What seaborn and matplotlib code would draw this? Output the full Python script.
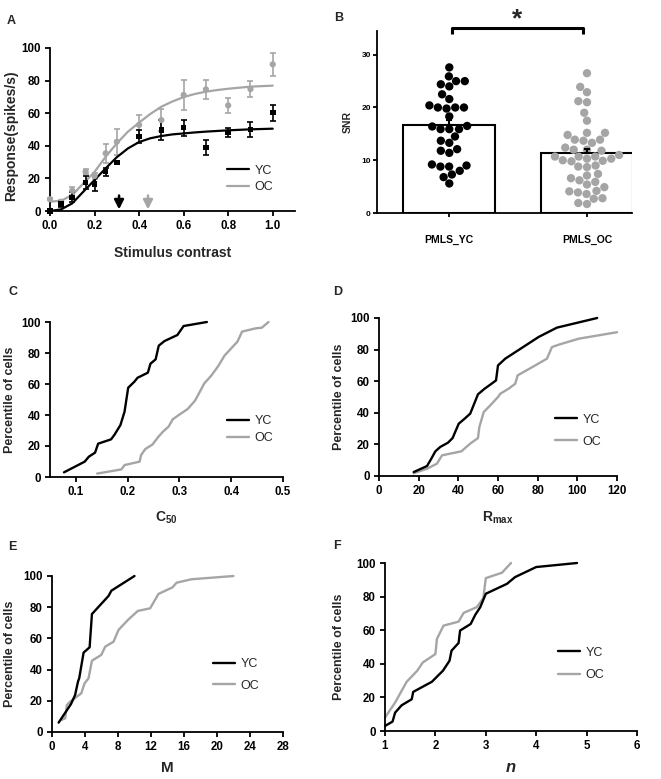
import matplotlib
matplotlib.use("Agg")
import matplotlib.pyplot as plt
import seaborn as sns
import pandas as pd

sns.set_theme(style="ticks")
plt.rcParams["font.family"] = ["Liberation Sans", "DejaVu Sans"]
plt.rcParams["font.weight"] = "bold"
plt.rcParams["axes.labelweight"] = "bold"
plt.rcParams["mathtext.fontset"] = "custom"
plt.rcParams["mathtext.rm"] = "Liberation Sans:bold"
plt.rcParams["mathtext.bf"] = "Liberation Sans:bold"
plt.rcParams["mathtext.default"] = "rm"

W, H = 661, 779
BLACK = "#000000"
GRAY = "#a5a5a5"

# ── A: contrast response ─────────────────────────────────────
contrast = [0, 0.05, 0.1, 0.16, 0.2, 0.25, 0.3, 0.4, 0.5, 0.6, 0.7, 0.8, 0.9, 1.0]
yc_resp = [0, 4.3, 8.4, 17.4, 16.6, 24.1, 29.7, 45.6, 49.7, 51.1, 38.9, 48.1, 50.1, 60.3]
yc_err = [0.5, 2, 3, 4, 4.5, 2.5, 1, 4, 6, 5, 4.5, 3, 4.5, 5]
oc_resp = [7.2, 5.7, 12.5, 24.1, 21.5, 35.4, 42.5, 52.8, 55.8, 71.2, 74.6, 64.8, 74.8, 90]
oc_err = [0.5, 1, 2.5, 1.5, 2, 6, 8, 6, 7, 9, 6, 4.5, 5, 7]

fit_x = [0, 0.05, 0.1, 0.15, 0.2, 0.25, 0.3, 0.35, 0.4, 0.45, 0.5, 0.55, 0.6, 0.65,
         0.7, 0.75, 0.8, 0.9, 1.0]
yc_fit = [0, 1, 4.7, 11.9, 19, 26.2, 33, 38.4, 42.3, 44.6, 46, 47, 47.6, 48.2,
          48.7, 49.1, 49.5, 50.1, 50.5]
oc_fit = [5.7, 6.3, 9.8, 17, 24, 33.3, 41.5, 48.7, 54.2, 59.5, 64, 67.2, 69.9, 71.8,
          73.2, 74.2, 75, 76.3, 76.9]
c50_arrows = [0.31, 0.44]

# ── B: SNR ───────────────────────────────────────────────────
groups = ["PMLS_YC", "PMLS_OC"]
snr_yc = [27.6, 25.0, 24.4, 24.0, 25.0, 25.9, 22.5, 21.6, 20.0, 19.8, 20.4, 20.0, 20.0,
          18.3, 16.5, 15.9, 15.9, 15.9, 16.4, 14.5, 13.7, 13.3, 12.1, 11.4, 11.8,
          9.0, 8.8, 8.8, 9.2, 7.3, 8.0, 6.8, 5.6]
snr_oc = [26.5, 22.9, 23.9, 19.0, 21.0, 21.2, 17.5, 15.2, 13.9, 13.7, 15.2, 13.9, 14.8,
          12.4, 12.0, 13.3, 11.8, 12.0, 10.3, 10.0, 9.8, 8.8, 8.7, 9.0, 9.9, 10.3, 10.7,
          10.7, 10.7, 11.0, 5.9, 4.9, 7.1, 6.2, 6.6, 7.4, 5.4, 3.6, 4.1, 3.9, 4.2, 2.8,
          2.7, 1.7, 1.9]
snr_mean = [16.6, 11.4]
snr_sem = [1.1, 0.8]

# ── C-F: cumulative distributions ────────────────────────────
c50_yc_x = [0.077, 0.117, 0.125, 0.137, 0.143, 0.168, 0.175, 0.186, 0.194, 0.201, 0.213,
            0.219, 0.239, 0.244, 0.254, 0.26, 0.271, 0.296, 0.308, 0.353]
c50_yc_y = [3, 9.9, 13.1, 15.7, 21.5, 24.3, 27.5, 33.5, 42.2, 57.6, 61.5, 64, 67.3, 73.1,
            75.9, 84.7, 87.7, 91.6, 97.4, 100]
c50_oc_x = [0.141, 0.188, 0.194, 0.223, 0.226, 0.234, 0.248, 0.259, 0.268, 0.279, 0.287,
            0.297, 0.316, 0.33, 0.337, 0.348, 0.361, 0.375, 0.387, 0.403, 0.412, 0.421,
            0.447, 0.459, 0.472]
c50_oc_y = [2.2, 4.9, 7.7, 9.9, 14.2, 18, 21, 25.8, 29.2, 32.5, 37.2, 39.6, 43.9, 49.2,
            53.5, 60.4, 65.2, 71.6, 78.3, 84.1, 87.3, 93.8, 95.9, 96.3, 100]

rmax_yc_x = [17.5, 24.2, 26.4, 28.4, 30.9, 34.8, 37.1, 40.2, 43.2, 46, 49.9, 53.3, 56.1,
             59, 60, 63.7, 80.5, 89.7, 110]
rmax_yc_y = [2.5, 6.3, 11, 15.6, 18.4, 21.1, 24, 33.1, 36.3, 39.5, 51.7, 55.3, 57.8,
             60.5, 70, 74.3, 88, 93.9, 100]
rmax_oc_x = [17.5, 24.2, 29.2, 31.8, 41.5, 46, 49.9, 50.6, 52.8, 56.1, 60, 61.2, 65.4,
             68.7, 69.9, 78.8, 84.7, 87.2, 90.6, 100.7, 120]
rmax_oc_y = [1.7, 4.6, 7.8, 13.1, 15.6, 20.5, 24, 31, 40.5, 44.7, 50, 52.1, 55.3, 58.4,
             63.7, 70, 74.3, 81.6, 83.1, 86.9, 91]

m_yc_x = [0.8, 2.3, 2.8, 3.15, 3.3, 3.83, 4.56, 4.84, 6.85, 7.2, 10]
m_yc_y = [6, 17.9, 23.7, 32.3, 34.5, 50.9, 54.3, 75.6, 87.2, 90.6, 100]
m_oc_x = [1.13, 1.6, 1.8, 2.2, 3.55, 3.95, 4.43, 4.84, 5.97, 6.45, 7.46, 8.06, 9.2, 10.4,
          11.9, 12.9, 14.6, 15.1, 16.9, 22]
m_oc_y = [7.7, 8.8, 17.3, 19.4, 24.8, 31.2, 34.4, 45.7, 49.4, 54.7, 57.9, 65.4, 71.8,
          77.6, 79.3, 88.5, 92.7, 95.7, 97.9, 100]

n_yc_x = [1.0, 1.15, 1.2, 1.33, 1.53, 1.56, 1.93, 2.15, 2.28, 2.32, 2.46, 2.49, 2.7, 2.79,
          2.89, 3.0, 3.42, 3.58, 4.0, 4.81]
n_yc_y = [3, 5.6, 10.9, 15.3, 18.9, 23.3, 29.3, 35.9, 41.8, 47.8, 52.4, 59.8, 63.7, 69.1,
          73.7, 81.7, 87.6, 91.6, 97.6, 100]
n_oc_x = [1.0, 1.2, 1.43, 1.64, 1.75, 2.0, 2.03, 2.16, 2.46, 2.56, 2.82, 2.95, 3.0, 3.32, 3.5]
n_oc_y = [8, 16.9, 29.3, 35.9, 40.8, 45.8, 54.8, 62.7, 65.1, 70.3, 73.7, 79, 91, 94.2, 100]

fig = plt.figure(figsize=(W / 100, H / 100), dpi=100)


def axes_px(l, t, r, b):
    return fig.add_axes([l / W, 1 - b / H, (r - l) / W, (b - t) / H])


def style(ax, size=8.3, length=3.5, pad=3):
    sns.despine(ax=ax)
    for s in ["left", "bottom"]:
        ax.spines[s].set_linewidth(1.3)
        ax.spines[s].set_color("black")
    ax.tick_params(direction="out", length=length, width=1.3, labelsize=size, pad=pad,
                   colors="black")


def xlab(ax, text, y_px, size=10, **kw):
    ax.set_xlabel(text, fontsize=size, **kw)
    bb = ax.get_position()
    ax.xaxis.set_label_coords((bb.x0 + bb.x1) / 2, 1 - y_px / H, transform=fig.transFigure)
    ax.xaxis.label.set_va("center")


def ylab(ax, text, x_px, y_px=None, size=9):
    ax.set_ylabel(text, fontsize=size)
    bb = ax.get_position()
    cy = (bb.y0 + bb.y1) / 2 if y_px is None else 1 - y_px / H
    ax.yaxis.set_label_coords(x_px / W, cy, transform=fig.transFigure)
    ax.yaxis.label.set_va("center")


def legend(ax, x_px, y_px, spacing):
    h, l = ax.get_legend_handles_labels()
    d = dict(zip(l, h))
    ax.legend([d["YC"], d["OC"]], ["YC", "OC"], loc="center left",
              bbox_to_anchor=(x_px / W, 1 - y_px / H), bbox_transform=fig.transFigure,
              frameon=False, borderpad=0, borderaxespad=0, handlelength=1.75,
              handletextpad=0.45, labelspacing=spacing,
              prop={"size": 9, "weight": "normal"})


def letter(x_px, y_px, s):
    fig.text(x_px / W, 1 - y_px / H, s, fontsize=9, fontweight="bold", ha="center", va="center")


def cdf_panel(ax, yc_x, yc_y, oc_x, oc_y):
    sns.lineplot(x=oc_x, y=oc_y, color=GRAY, lw=1.7, estimator=None, sort=False,
                 label="OC", ax=ax, clip_on=False)
    sns.lineplot(x=yc_x, y=yc_y, color=BLACK, lw=1.7, estimator=None, sort=False,
                 label="YC", ax=ax, clip_on=False)
    ax.set_ylim(0, 100)
    ax.set_yticks(range(0, 101, 20))
    style(ax)


# ── A ──
ax = axes_px(50, 48, 295, 211)
sns.lineplot(x=fit_x, y=oc_fit, color=GRAY, lw=1.6, estimator=None, sort=False,
             label="OC", ax=ax)
ax.errorbar(contrast, oc_resp, yerr=oc_err, fmt="none", ecolor=GRAY, elinewidth=1.2,
            capsize=2.5, capthick=1.2, clip_on=False)
sns.scatterplot(x=contrast, y=oc_resp, marker="o", color=GRAY, s=20, edgecolor="none",
                ax=ax, clip_on=False, zorder=3)
sns.lineplot(x=fit_x, y=yc_fit, color=BLACK, lw=1.6, estimator=None, sort=False,
             label="YC", ax=ax)
ax.errorbar(contrast, yc_resp, yerr=yc_err, fmt="none", ecolor=BLACK, elinewidth=1.2,
            capsize=2.5, capthick=1.2, clip_on=False)
sns.scatterplot(x=contrast, y=yc_resp, marker="s", color=BLACK, s=16, edgecolor="none",
                ax=ax, clip_on=False, zorder=4)
for xv, col in zip(c50_arrows, [BLACK, GRAY]):
    ax.annotate("", xy=(xv, 1.0), xytext=(xv, 9.5),
                arrowprops=dict(arrowstyle="-|>,head_width=0.28,head_length=0.55",
                                color=col, lw=1.8, mutation_scale=10, shrinkA=0, shrinkB=0))
ax.set_xlim(0, 1.1)
ax.set_ylim(0, 100)
ax.set_xticks([0, 0.2, 0.4, 0.6, 0.8, 1.0])
ax.set_xticklabels(["0.0", "0.2", "0.4", "0.6", "0.8", "1.0"])
ax.set_yticks(range(0, 101, 20))
style(ax)
xlab(ax, "Stimulus contrast", 253, size=10)
ylab(ax, "Response(spikes/s)", 11, 136, size=10)
legend(ax, 227, 179, 0.4)
letter(11, 21, "A")

# ── B ──
ax = axes_px(377, 31, 632, 213)
sns.barplot(x=groups, y=snr_mean, order=groups, width=0.67, color="white", saturation=1,
            edgecolor="black", linewidth=1.5, errorbar=None, ax=ax, zorder=1)
ax.errorbar([0, 1], snr_mean, yerr=[[0, 0], snr_sem], fmt="none", ecolor="black",
            elinewidth=1.5, capsize=2, capthick=1.5, zorder=5)
snr = pd.DataFrame({"group": [groups[0]] * len(snr_yc) + [groups[1]] * len(snr_oc),
                    "snr": snr_yc + snr_oc})
sns.swarmplot(data=snr, x="group", y="snr", hue="group", order=groups,
              palette={groups[0]: BLACK, groups[1]: GRAY}, size=6, legend=False,
              ax=ax, zorder=3)
ax.set_xlim(-0.525, 1.327)
ax.set_ylim(0, 34.5)
ax.set_yticks([0, 10, 20, 30])
style(ax, size=6, length=3, pad=1.5)
ax.tick_params(axis="x", labelsize=7.5, pad=13)
ax.set_xlabel("")
ylab(ax, "SNR", 348, size=7.5)
ax.plot([0.02, 0.02, 0.97, 0.97], [33.9, 35.1, 35.1, 33.9], color="black", lw=2.2,
        clip_on=False, solid_capstyle="butt")
ax.text(0.49, 35.3, "*", fontsize=19, fontweight="bold", ha="center", va="baseline")
letter(339, 18, "B")

# ── C ──
ax = axes_px(50, 322, 283, 477)
cdf_panel(ax, c50_yc_x, c50_yc_y, c50_oc_x, c50_oc_y)
ax.set_xlim(0.05, 0.5)
ax.set_xticks([0.1, 0.2, 0.3, 0.4, 0.5])
xlab(ax, "C$_{50}$", 518, size=10)
ylab(ax, "Percentile of cells", 10)
legend(ax, 227, 430, 0.4)
letter(13, 292, "C")

# ── D ──
ax = axes_px(379, 318, 617, 476)
cdf_panel(ax, rmax_yc_x, rmax_yc_y, rmax_oc_x, rmax_oc_y)
ax.set_xlim(0, 120)
ax.set_xticks(range(0, 121, 20))
xlab(ax, "R$_{max}$", 518, size=10)
ylab(ax, "Percentile of cells", 339)
legend(ax, 555, 430.5, 0.8)
letter(338, 292, "D")

# ── E ──
ax = axes_px(52, 576, 283, 732)
cdf_panel(ax, m_yc_x, m_yc_y, m_oc_x, m_oc_y)
ax.set_xlim(0, 28)
ax.set_xticks(range(0, 29, 4))
xlab(ax, "M", 768, size=11)
ylab(ax, "Percentile of cells", 10)
legend(ax, 213, 675, 0.75)
letter(12, 547, "E")

# ── F ──
ax = axes_px(385, 563, 637, 731)
cdf_panel(ax, n_yc_x, n_yc_y, n_oc_x, n_oc_y)
ax.set_xlim(1, 6)
ax.set_xticks(range(1, 7))
xlab(ax, "n", 768, size=12, style="italic")
ylab(ax, "Percentile of cells", 339)
legend(ax, 558, 664, 0.85)
letter(337, 546, "F")

fig.savefig("out.png", dpi=100)
